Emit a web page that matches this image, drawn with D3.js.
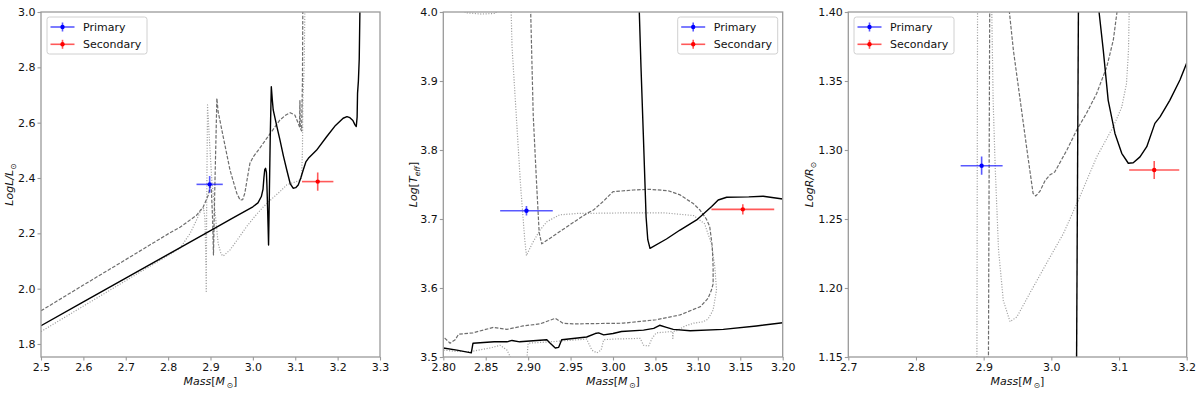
<!DOCTYPE html>
<html><head><meta charset="utf-8">
<script src="https://cdn.jsdelivr.net/npm/d3@7"></script>
<style>body{margin:0;background:#fff}svg{display:block;font-family:"DejaVu Sans",sans-serif}</style>
</head><body><svg id="c" width="1200" height="393"></svg>
<script>
// ---------- DATA ----------
// Panel 1: Log L/Lsun vs Mass
const lumXTicks = [2.5,2.6,2.7,2.8,2.9,3.0,3.1,3.2,3.3];
const lumYTicks = [1.8,2.0,2.2,2.4,2.6,2.8,3.0];
const lumSolid = [[2.50,1.866],[2.60,1.952],[2.70,2.038],[2.80,2.124],[2.90,2.210],[2.95,2.253],[3.00,2.296],[3.012,2.31],[3.020,2.333],[3.024,2.36],[3.026,2.40],[3.028,2.43],[3.030,2.435],[3.032,2.42],[3.033,2.38],[3.034,2.33],[3.036,2.22],[3.037,2.158],[3.039,2.35],[3.041,2.55],[3.0435,2.73],[3.046,2.68],[3.048,2.646],[3.056,2.59],[3.064,2.537],[3.072,2.48],[3.080,2.429],[3.088,2.38],[3.095,2.363],[3.101,2.365],[3.107,2.375],[3.113,2.40],[3.119,2.43],[3.125,2.458],[3.131,2.471],[3.15,2.50],[3.174,2.549],[3.195,2.59],[3.213,2.616],[3.222,2.622],[3.229,2.618],[3.236,2.608],[3.241,2.592],[3.244,2.586],[3.246,2.62],[3.247,2.706],[3.249,2.75],[3.251,2.83],[3.253,3.05]];
const lumDashed = [[2.50,1.92],[2.60,2.013],[2.70,2.105],[2.80,2.198],[2.828,2.222],[2.867,2.265],[2.883,2.296],[2.895,2.339],[2.899,2.37],[2.902,2.36],[2.905,2.25],[2.907,2.122],[2.910,2.35],[2.913,2.55],[2.915,2.688],[2.918,2.64],[2.930,2.549],[2.946,2.429],[2.962,2.345],[2.970,2.32],[2.976,2.322],[2.981,2.345],[2.987,2.40],[2.993,2.453],[3.001,2.477],[3.015,2.505],[3.033,2.544],[3.050,2.58],[3.064,2.61],[3.078,2.628],[3.088,2.636],[3.099,2.628],[3.107,2.598],[3.110,2.585],[3.111,2.68],[3.112,2.58],[3.115,2.57],[3.117,2.75],[3.118,3.05]];
const lumDotted = [[2.50,1.845],[2.60,1.937],[2.70,2.029],[2.80,2.12],[2.828,2.146],[2.852,2.20],[2.867,2.248],[2.878,2.285],[2.884,2.29],[2.887,2.25],[2.889,2.10],[2.890,1.99],[2.891,2.30],[2.893,2.664],[2.897,2.55],[2.903,2.393],[2.911,2.272],[2.918,2.164],[2.925,2.125],[2.930,2.118],[2.946,2.14],[2.965,2.18],[2.985,2.224],[3.005,2.262],[3.025,2.296],[3.045,2.325],[3.064,2.351],[3.080,2.375],[3.095,2.383],[3.108,2.39],[3.115,2.40],[3.117,2.50],[3.118,2.68],[3.121,2.80],[3.123,3.05]];
const lumPrimary = [2.898, 2.377, 0.031, 0.030];   // mass, value, mass err, value err
const lumSecondary = [3.153, 2.387, 0.037, 0.033];

// Panel 2: Log Teff vs Mass
const teffXTicks = [2.80,2.85,2.90,2.95,3.00,3.05,3.10,3.15,3.20];
const teffYTicks = [3.5,3.6,3.7,3.8,3.9,4.0];
const teffSolidLow = [[2.800,3.513],[2.816,3.510],[2.833,3.506],[2.835,3.520],[2.860,3.522],[2.875,3.522],[2.881,3.524],[2.890,3.522],[2.922,3.525],[2.926,3.520],[2.932,3.513],[2.936,3.514],[2.9395,3.525],[2.969,3.529],[2.979,3.534],[2.983,3.535],[2.989,3.532],[3.000,3.534],[3.010,3.537],[3.036,3.539],[3.048,3.5415],[3.055,3.546],[3.063,3.543],[3.071,3.540],[3.091,3.538],[3.130,3.540],[3.169,3.545],[3.200,3.5497]];
const teffSolidHigh = [[3.030,4.05],[3.031,4.0],[3.033,3.92],[3.0357,3.824],[3.039,3.703],[3.041,3.67],[3.0436,3.6575],[3.063,3.671],[3.079,3.684],[3.0986,3.6986],[3.1163,3.718],[3.124,3.7275],[3.134,3.7315],[3.160,3.732],[3.177,3.733],[3.200,3.729]];
const teffDashed = [[2.902,4.05],[2.903,4.0],[2.906,3.85],[2.910,3.75],[2.913,3.68],[2.916,3.664],[2.94,3.684],[2.969,3.708],[2.977,3.713],[2.988,3.725],[3.000,3.7396],[3.024,3.742],[3.0436,3.743],[3.065,3.741],[3.079,3.735],[3.095,3.722],[3.1025,3.713],[3.110,3.70],[3.114,3.689],[3.117,3.66],[3.118,3.631],[3.118,3.606],[3.116,3.597],[3.112,3.585],[3.103,3.573],[3.079,3.561],[3.051,3.554],[3.012,3.549],[2.953,3.548],[2.941,3.549],[2.932,3.556],[2.914,3.548],[2.894,3.545],[2.875,3.540],[2.859,3.543],[2.835,3.535],[2.818,3.533],[2.814,3.525],[2.808,3.520],[2.802,3.527],[2.800,3.529]];
const teffDotted = [[2.815,4.05],[2.826,3.999],[2.845,3.997],[2.862,3.998],[2.866,4.05],[2.879,4.05],[2.881,3.95],[2.886,3.85],[2.891,3.75],[2.896,3.67],[2.898,3.647],[2.905,3.665],[2.914,3.684],[2.922,3.696],[2.937,3.706],[2.957,3.708],[3.024,3.709],[3.060,3.709],[3.095,3.705],[3.108,3.693],[3.116,3.664],[3.120,3.631],[3.122,3.597],[3.118,3.568],[3.112,3.555],[3.106,3.551],[3.095,3.549],[3.085,3.545],[3.075,3.538],[3.071,3.537],[3.0705,3.527],[3.070,3.537],[3.051,3.535],[3.046,3.527],[3.042,3.516],[3.036,3.517],[3.032,3.527],[3.000,3.526],[2.989,3.525],[2.986,3.510],[2.981,3.506],[2.975,3.510],[2.969,3.526],[2.926,3.522],[2.900,3.520],[2.898,3.49],[2.890,3.48],[2.881,3.495],[2.875,3.51],[2.867,3.517],[2.855,3.513],[2.833,3.508],[2.816,3.508],[2.800,3.51]];
const teffPrimary = [2.898, 3.712, 0.031, 0.007];
const teffSecondary = [3.153, 3.714, 0.037, 0.0075];

// Panel 3: Log R/Rsun vs Mass
const radXTicks = [2.7,2.8,2.9,3.0,3.1,3.2];
const radYTicks = [1.15,1.20,1.25,1.30,1.35,1.40];
const radSolidA = [[3.0372,1.14],[3.0401,1.41]];
const radSolidB = [[3.069,1.42],[3.0705,1.40],[3.0768,1.372],[3.084,1.336],[3.094,1.312],[3.104,1.2976],[3.1137,1.2904],[3.121,1.2908],[3.131,1.295],[3.141,1.3024],[3.153,1.3193],[3.1606,1.324],[3.175,1.336],[3.19,1.3507],[3.200,1.363]];
const radDashedA = [[2.907,1.14],[2.909,1.41]];
const radDashedB = [[2.937,1.42],[2.938,1.40],[2.944,1.372],[2.954,1.336],[2.964,1.30],[2.973,1.2686],[2.977,1.2667],[2.983,1.27],[2.991,1.278],[2.998,1.282],[3.005,1.284],[3.023,1.30],[3.0375,1.3145],[3.052,1.3266],[3.067,1.341],[3.082,1.3604],[3.0916,1.3797],[3.097,1.40],[3.099,1.42]];
const radDottedA = [[2.890,1.14],[2.891,1.41]];
const radDottedB = [[2.9115,1.42],[2.912,1.40],[2.914,1.336],[2.917,1.288],[2.922,1.2275],[2.929,1.191],[2.939,1.1756],[2.949,1.179],[2.968,1.196],[2.993,1.218],[3.018,1.2396],[3.042,1.266],[3.067,1.295],[3.0916,1.317],[3.104,1.331],[3.111,1.348],[3.114,1.372],[3.115,1.40],[3.1152,1.42]];
const radPrimary = [2.897, 1.2886, 0.031, 0.0066];
const radSecondary = [3.152, 1.2855, 0.037, 0.0066];

const legendLabels = ["Primary","Secondary"];

// ---------- STYLES ----------
const styles = {
  solid:  {stroke:"#000", width:1.4, dash:null},
  dashed: {stroke:"#6e6e6e", width:1.2, dash:"3.6,1.6"},
  dotted: {stroke:"#a0a0a0", width:1.2, dash:"1.1,1.6"}
};
const FS = "11px";
const svg = d3.select("#c");
const TOP = 12, BOTTOM = 357;
const spineColor = "#9a9a9a";

function label(sel, parts) {
  parts.forEach(p => {
    const t = sel.append("tspan").text(p[0])
      .attr("font-style", p[1] ? "italic" : "normal");
    if (p[2] === 1) t.attr("font-size", "7.7px").attr("dy", 2.5);
    if (p[2] === -1) t.attr("dy", -2.5);
  });
}

function drawPanel(cfg, idx) {
  const g = svg.append("g");
  const x = d3.scaleLinear().domain(cfg.xDomain).range([cfg.left, cfg.right]);
  const y = d3.scaleLinear().domain(cfg.yDomain).range([BOTTOM, TOP]);
  const clipId = "clip" + idx;
  svg.append("clipPath").attr("id", clipId).append("rect")
    .attr("x", cfg.left).attr("y", TOP).attr("width", cfg.right - cfg.left).attr("height", BOTTOM - TOP);
  const plot = g.append("g").attr("clip-path", `url(#${clipId})`);
  const lineL = d3.line().x(d => x(d[0])).y(d => y(d[1]));
  cfg.series.forEach(s => {
    const st = styles[s.style];
    plot.append("path").attr("d", lineL(s.data)).attr("fill", "none")
      .attr("stroke", st.stroke).attr("stroke-width", st.width)
      .attr("stroke-dasharray", st.dash).attr("stroke-linejoin", "round");
  });
  // error bars
  [[cfg.primary, "blue"], [cfg.secondary, "red"]].forEach(([p, c]) => {
    const eg = plot.append("g");
    eg.append("line").attr("x1", x(p[0] - p[2])).attr("x2", x(p[0] + p[2]))
      .attr("y1", y(p[1])).attr("y2", y(p[1]))
      .attr("stroke", c).attr("stroke-opacity", 0.65).attr("stroke-width", 1.6);
    eg.append("line").attr("x1", x(p[0])).attr("x2", x(p[0]))
      .attr("y1", y(p[1] - p[3])).attr("y2", y(p[1] + p[3]))
      .attr("stroke", c).attr("stroke-opacity", 0.65).attr("stroke-width", 1.6);
    eg.append("circle").attr("cx", x(p[0])).attr("cy", y(p[1])).attr("r", 2.2).attr("fill", c);
  });
  // axes
  const xa = g.append("g").attr("transform", `translate(0,${BOTTOM})`)
    .call(d3.axisBottom(x).tickValues(cfg.xTicks).tickFormat(d3.format(cfg.xFmt)).tickSizeOuter(0).tickSize(3.5).tickPadding(2.7));
  const ya = g.append("g").attr("transform", `translate(${cfg.left},0)`)
    .call(d3.axisLeft(y).tickValues(cfg.yTicks).tickFormat(d3.format(cfg.yFmt)).tickSizeOuter(0).tickSize(3.5).tickPadding(2));
  [xa, ya].forEach(a => {
    a.select(".domain").remove();
    a.selectAll(".tick line").attr("stroke", spineColor).attr("stroke-width", 1.1);
    a.selectAll(".tick text").attr("font-size", FS).attr("fill", "#111").attr("font-family", "DejaVu Sans");
  });
  g.append("rect").attr("x", cfg.left).attr("y", TOP).attr("width", cfg.right - cfg.left)
    .attr("height", BOTTOM - TOP).attr("fill", "none").attr("stroke", spineColor).attr("stroke-width", 1.3);
  // x label
  const xl = g.append("text").attr("x", (cfg.left + cfg.right) / 2).attr("y", 385)
    .attr("text-anchor", "middle").attr("font-size", FS).attr("fill", "#111");
  label(xl, [["Mass", true], ["[", false], ["M", true], ["\u2009\u2299", false, 1], ["]", false, -1]]);
  // y label
  const yl = g.append("text").attr("transform", `translate(${cfg.ylabelX},${(TOP + BOTTOM) / 2}) rotate(-90)`)
    .attr("text-anchor", "middle").attr("font-size", FS).attr("fill", "#111");
  label(yl, cfg.ylabel);
  // legend
  const lx = cfg.legendX, ly = 17;
  const lg = g.append("g");
  lg.append("rect").attr("x", lx).attr("y", ly).attr("width", 100).attr("height", 37).attr("rx", 2.5)
    .attr("fill", "#fff").attr("fill-opacity", 0.8).attr("stroke", "#d0d0d0").attr("stroke-width", 1);
  legendLabels.forEach((t, i) => {
    const c = i === 0 ? "blue" : "red";
    const cy = ly + 10 + i * 17.3;
    lg.append("line").attr("x1", lx + 3.5).attr("x2", lx + 27.5).attr("y1", cy).attr("y2", cy)
      .attr("stroke", c).attr("stroke-opacity", 0.65).attr("stroke-width", 1.6);
    lg.append("line").attr("x1", lx + 15.5).attr("x2", lx + 15.5).attr("y1", cy - 4.5).attr("y2", cy + 4.5)
      .attr("stroke", c).attr("stroke-opacity", 0.65).attr("stroke-width", 1.6);
    lg.append("circle").attr("cx", lx + 15.5).attr("cy", cy).attr("r", 2.2).attr("fill", c);
    lg.append("text").attr("x", lx + 36).attr("y", cy).attr("dy", "0.36em")
      .attr("font-size", FS).attr("fill", "#111").text(t);
  });
}

drawPanel({
  left: 41, right: 380, xDomain: [2.5, 3.3], yDomain: [1.753, 3.0],
  xTicks: lumXTicks, yTicks: lumYTicks, xFmt: ".1f", yFmt: ".1f",
  series: [{data: lumDotted, style: "dotted"}, {data: lumDashed, style: "dashed"}, {data: lumSolid, style: "solid"}],
  primary: lumPrimary, secondary: lumSecondary, ylabelX: 13, legendX: 47,
  ylabel: [["LogL/L", true], ["\u2299", false, 1]]
}, 1);
drawPanel({
  left: 443.3, right: 782.7, xDomain: [2.8, 3.2], yDomain: [3.5, 4.0],
  xTicks: teffXTicks, yTicks: teffYTicks, xFmt: ".2f", yFmt: ".1f",
  series: [{data: teffDotted, style: "dotted"}, {data: teffDashed, style: "dashed"}, {data: teffSolidLow, style: "solid"}, {data: teffSolidHigh, style: "solid"}],
  primary: teffPrimary, secondary: teffSecondary, ylabelX: 417, legendX: 677.7,
  ylabel: [["Log", true], ["[", false], ["T", true], ["eff", true, 1], ["]", false, -1]]
}, 2);
drawPanel({
  left: 848.3, right: 1186.7, xDomain: [2.7, 3.2], yDomain: [1.15, 1.40],
  xTicks: radXTicks, yTicks: radYTicks, xFmt: ".1f", yFmt: ".2f",
  series: [{data: radDottedA, style: "dotted"}, {data: radDottedB, style: "dotted"}, {data: radDashedA, style: "dashed"}, {data: radDashedB, style: "dashed"}, {data: radSolidA, style: "solid"}, {data: radSolidB, style: "solid"}],
  primary: radPrimary, secondary: radSecondary, ylabelX: 813, legendX: 854,
  ylabel: [["LogR/R", true], ["\u2299", false, 1]]
}, 3);
</script></body></html>
